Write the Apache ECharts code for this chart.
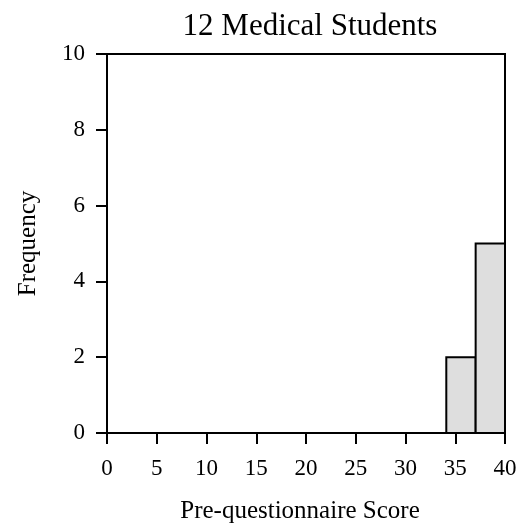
<!DOCTYPE html>
<html>
<head>
<meta charset="utf-8">
<script src="https://cdn.jsdelivr.net/npm/echarts@6/dist/echarts.min.js"></script>
<style>
html, body { margin: 0; padding: 0; background: #fff; }
#chart { width: 518px; height: 525px; }
</style>
</head>
<body>
<div id="chart"></div>
<script>
// histogram bins
const binStarts = [34.1, 37.05]
const binEnds = [37.05, 40]
const counts = [2, 5]
const xTicks = [0, 5, 10, 15, 20, 25, 30, 35, 40]
const yTicks = [0, 2, 4, 6, 8, 10]

const font = 'Liberation Serif, Times New Roman, serif'
const chart = echarts.init(document.getElementById('chart'))

const bins = binStarts.map((s, i) => [s, binEnds[i], counts[i]])

chart.setOption({
	animation: false,
	title: {
		text: '12 Medical Students',
		left: 305,
		textAlign: 'center',
		top: 6,
		textStyle: { fontFamily: font, fontWeight: 'normal', fontSize: 31, color: '#000' }
	},
	grid: {
		left: 107,
		right: 13,
		top: 54,
		bottom: 92,
		outerBoundsMode: 'none',
		show: true,
		borderColor: '#000',
		borderWidth: 2
	},
	xAxis: {
		type: 'value',
		min: xTicks[0],
		max: xTicks[xTicks.length - 1],
		interval: 5,
		name: 'Pre-questionnaire Score',
		nameLocation: 'middle',
		nameGap: 66,
		nameTextStyle: { fontFamily: font, fontSize: 25, color: '#000', padding: [0, 12, 0, 0] },
		axisLine: { show: true, onZero: false, lineStyle: { color: '#000', width: 2 } },
		axisTick: { show: true, length: 11, lineStyle: { color: '#000', width: 2 } },
		axisLabel: { fontFamily: font, fontSize: 23, color: '#000', margin: 24 },
		splitLine: { show: false }
	},
	yAxis: {
		type: 'value',
		min: yTicks[0],
		max: yTicks[yTicks.length - 1],
		interval: 2,
		name: 'Frequency',
		nameLocation: 'middle',
		nameGap: 66,
		nameTextStyle: { fontFamily: font, fontSize: 25, color: '#000', padding: [0, 0, 0, 0] },
		axisLine: { show: true, lineStyle: { color: '#000', width: 2 } },
		axisTick: { show: true, length: 11, lineStyle: { color: '#000', width: 2 } },
		axisLabel: { fontFamily: font, fontSize: 23, color: '#000', margin: 22 },
		splitLine: { show: false }
	},
	series: [
		{
			type: 'custom',
			data: bins,
			renderItem: function (params, api) {
				const p0 = api.coord([api.value(0), 0])
				const p1 = api.coord([api.value(1), api.value(2)])
				return {
					type: 'rect',
					shape: { x: p0[0], y: p1[1], width: p1[0] - p0[0], height: p0[1] - p1[1] },
					style: { fill: '#dedede', stroke: '#000', lineWidth: 2 }
				}
			}
		}
	]
})
</script>
</body>
</html>
